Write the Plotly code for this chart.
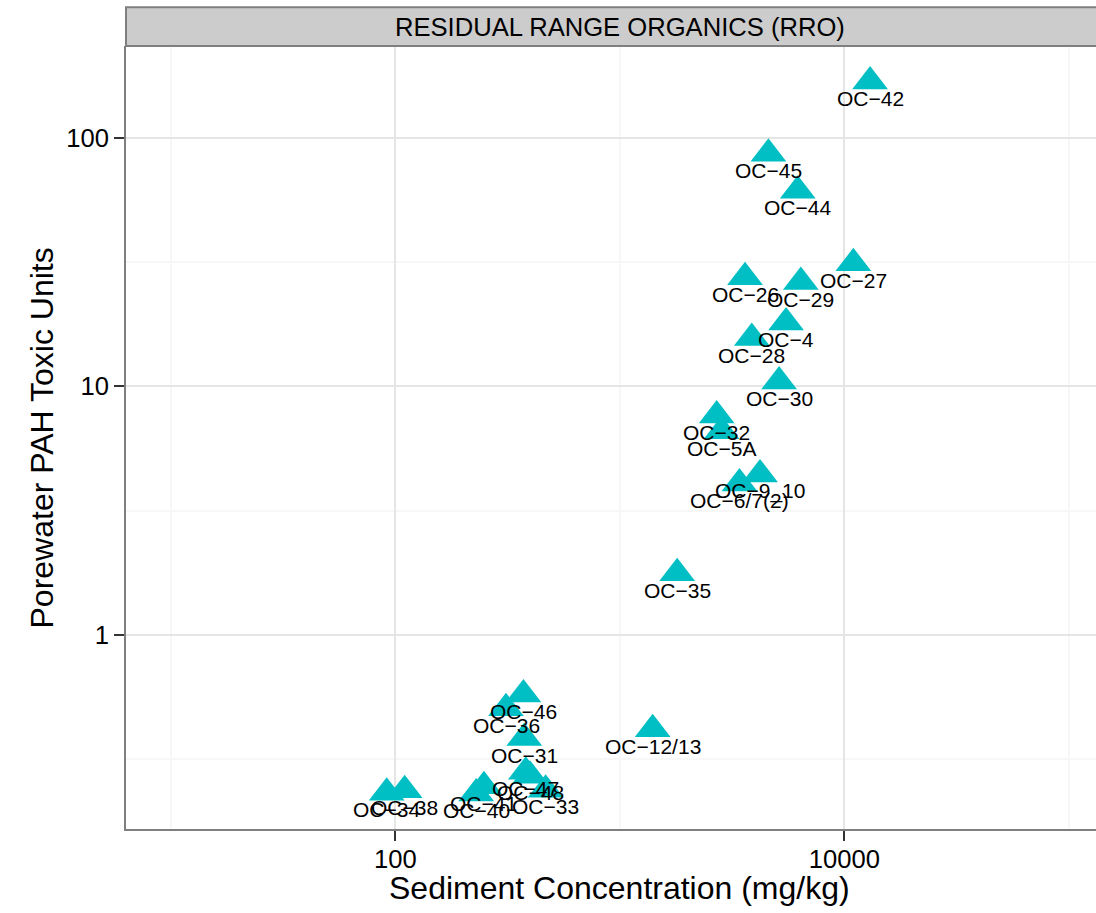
import numpy as np
import plotly.graph_objects as go

# ---- data ----
stations = ["OC−42", "OC−45", "OC−44", "OC−26", "OC−29", "OC−27", "OC−4", "OC−28",
            "OC−30", "OC−32", "OC−5A", "OC−9_10", "OC−6/7(2)", "OC−35", "OC−12/13",
            "OC−46", "OC−36", "OC−31", "OC−47", "OC−48", "OC−33", "OC−40", "OC−41",
            "OC−34", "OC−38"]
sediment_mg_kg = [13020, 4590, 6200, 3610, 6400, 10970, 5500, 3870,
                  5120, 2700, 2840, 4210, 3410, 1800, 1400,
                  372, 311, 375, 381, 398, 467, 229, 248,
                  91.5, 110]
pah_toxic_units = [168.6, 86.4, 61.3, 27.5, 26.3, 31.3, 18.1, 15.65,
                   10.46, 7.63, 6.60, 4.42, 4.07, 1.77, 0.417,
                   0.575, 0.506, 0.384, 0.281, 0.271, 0.238, 0.230, 0.246,
                   0.2315, 0.2366]

panel_title = "RESIDUAL RANGE ORGANICS (RRO)"
x_title = "Sediment Concentration (mg/kg)"
y_title = "Porewater PAH Toxic Units"
x_tickvals = [100, 10000]
x_ticktext = ["100", "10000"]
x_minor = [10, 1000, 100000]
y_tickvals = [1, 10, 100]
y_ticktext = ["1", "10", "100"]
y_minor = [10 ** -0.5, 10 ** 0.5, 10 ** 1.5, 10 ** 2.5]

FONT = "Liberation Sans, Arial, Helvetica, sans-serif"
CYAN = "#00BFC4"

# ggplot-like 5% expansion on y
ly = np.log10(pah_toxic_units)
span = ly.max() - ly.min()
y_range = [ly.min() - 0.05 * span, ly.max() + 0.05 * span]
x_range = [0.8, 5.121]

fig = go.Figure()
fig.add_trace(go.Scatter(
    x=sediment_mg_kg, y=pah_toxic_units, mode="markers",
    marker=dict(symbol="triangle-up", size=31, color=CYAN, line=dict(width=0)),
    hoverinfo="skip", showlegend=False,
))

annotations = []
for name, xv, yv in zip(stations, sediment_mg_kg, pah_toxic_units):
    annotations.append(dict(
        x=np.log10(xv), y=np.log10(yv), xref="x", yref="y", text=name,
        showarrow=False, xanchor="center", yanchor="middle", yshift=-17,
        font=dict(family=FONT, size=21, color="black"),
    ))

# strip title
annotations.append(dict(
    x=3, xref="x", y=1.0249, yref="paper", text=panel_title, showarrow=False,
    xanchor="center", yanchor="middle",
    font=dict(family=FONT, size=25.6, color="black"),
))
# axis titles
annotations.append(dict(
    x=3, xref="x", y=-0.0754, yref="paper", text=x_title, showarrow=False,
    xanchor="center", yanchor="middle",
    font=dict(family=FONT, size=32, color="black"),
))
annotations.append(dict(
    x=-0.0866, xref="paper", y=0.5, yref="paper", text=y_title, showarrow=False,
    xanchor="center", yanchor="middle", textangle=-90,
    font=dict(family=FONT, size=32, color="black"),
))

shapes = [dict(
    type="rect", xref="paper", yref="paper", x0=0, x1=1.05, y0=1.0, y1=1.0494,
    fillcolor="#CCCCCC", line=dict(color="#7F7F7F", width=2), layer="above",
)]

axis_common = dict(
    type="log", showline=True, linecolor="#7F7F7F", linewidth=2, mirror=False,
    ticks="outside", ticklen=10, tickwidth=2, tickcolor="#333333",
    showgrid=True, gridcolor="#E5E5E5", gridwidth=2, zeroline=False,
    tickfont=dict(family=FONT, size=25.6, color="black"),
)

fig.update_layout(
    width=1096, height=913,
    margin=dict(l=126, r=0, t=46, b=84, pad=0),
    paper_bgcolor="white", plot_bgcolor="white",
    xaxis=dict(range=x_range, tickmode="array", tickvals=x_tickvals, ticktext=x_ticktext,
               minor=dict(tickmode="array", tickvals=x_minor, showgrid=True,
                          gridcolor="#F7F7F7", gridwidth=2, ticklen=0),
               ticklabelstandoff=-4,
               **axis_common),
    yaxis=dict(range=y_range, tickmode="array", tickvals=y_tickvals, ticktext=y_ticktext,
               minor=dict(tickmode="array", tickvals=y_minor, showgrid=True,
                          gridcolor="#F7F7F7", gridwidth=2, ticklen=0),
               **axis_common),
    annotations=annotations, shapes=shapes,
    font=dict(family=FONT, color="black"),
    showlegend=False,
)

fig.write_html("out.html", config={"displayModeBar": False},
               post_script="document.body.style.margin='0';document.body.style.overflow='hidden';")
